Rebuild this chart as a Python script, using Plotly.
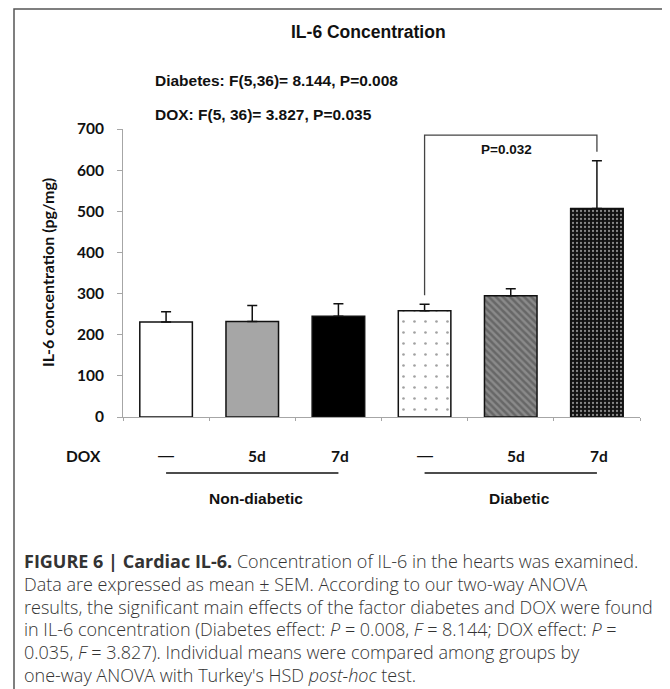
import plotly.graph_objects as go

# ---------------- data ----------------
groups = ["Non-diabetic", "Non-diabetic", "Non-diabetic", "Diabetic", "Diabetic", "Diabetic"]
dox_labels = ["—", "5d", "7d", "—", "5d", "7d"]
il6_mean = [231, 232, 245, 258, 295, 507]
il6_sem = [25, 39, 30, 16, 17, 116]
y_ticks = [0, 100, 200, 300, 400, 500, 600, 700]
title_text = "IL-6 Concentration"
stats_lines = ["Diabetes: F(5,36)= 8.144, P=0.008", "DOX: F(5, 36)= 3.827, P=0.035"]
comparison = (3, 5, "P=0.032")
caption_lines = [
    "<b>FIGURE 6 | Cardiac IL-6.</b> Concentration of IL-6 in the hearts was examined.",
    "Data are expressed as mean ± SEM. According to our two-way ANOVA",
    "results, the significant main effects of the factor diabetes and DOX were found",
    "in IL-6 concentration (Diabetes effect: <i>P</i> = 0.008, <i>F</i> = 8.144; DOX effect: <i>P</i> =",
    "0.035, <i>F</i> = 3.827). Individual means were compared among groups by",
    "one-way ANOVA with Turkey's HSD <i>post-hoc</i> test.",
]

# ---------------- layout geometry (page pixels; body has 8px margin) ----------------
OFF = 8
W_FIG, H_FIG = 670 - OFF, 689 - OFF
L, R, T, B = 123, 640, 129, 417          # plot area in page pixels
PW, PH = R - L, B - T


def px(xp):
    return (xp - L) / PW


def py(yp):
    return (B - yp) / PH


x_pos = list(range(len(il6_mean)))

bg = ["#ffffff", "#a6a6a6", "#000000", "#ffffff", "#8a8a8a", "#111111"]
fg = ["#000000", "#000000", "#000000", "#111111", "#1a1a1a", "#f0f0f0"]
shapes_pat = ["", "", "", ".", "\\", "."]
sizes = [8, 8, 8, 11, 5, 4]
solid = [0.3, 0.3, 0.3, 0.045, 0.5, 0.25]

fig = go.Figure()
fig.add_trace(go.Bar(
    x=x_pos, y=il6_mean, width=0.61,
    marker=dict(
        color=bg,
        line=dict(color="#111111", width=1.5),
        pattern=dict(shape=shapes_pat, fgcolor=fg, size=sizes,
                     solidity=solid, fillmode="overlay"),
    ),
    error_y=dict(type="data", array=il6_sem, arrayminus=[0] * len(il6_sem),
                 symmetric=False, color="#111111", thickness=1.5, width=5),
    showlegend=False, hoverinfo="skip",
))

bold_font = "Liberation Sans"
cal_font = "Lato"

annotations = []
shapes = []

# frame
shapes.append(dict(type="rect", xref="paper", yref="paper",
                   x0=px(14), x1=px(667), y0=py(705), y1=py(9),
                   line=dict(color="#555555", width=1.5), fillcolor="rgba(0,0,0,0)", layer="below"))

# title + stats
annotations.append(dict(text="<b>%s</b>" % title_text, xref="paper", yref="paper",
                        x=px(368), y=py(32), xanchor="center", yanchor="middle",
                        showarrow=False, font=dict(family=bold_font, size=17.5, color="#111")))
for i, s in enumerate(stats_lines):
    annotations.append(dict(text="<b>%s</b>" % s, xref="paper", yref="paper",
                            x=px(153), y=py(80 + 35 * i), xanchor="left", yanchor="middle",
                            showarrow=False, font=dict(family=bold_font, size=15.5, color="#111")))

# y axis title
annotations.append(dict(text="<b>IL-6 concentration (pg/mg)</b>", xref="paper", yref="paper",
                        x=px(47), y=0.5, xanchor="center", yanchor="middle", textangle=-90,
                        showarrow=False, font=dict(family=cal_font, size=16, color="#111")))

# comparison bracket
i0, i1, ptxt = comparison
top_level = 685
gap = 22
shapes.append(dict(type="path", xref="x", yref="y",
                   path="M %f,%f L %f,%f L %f,%f L %f,%f" % (
                       i0, il6_mean[i0] + il6_sem[i0] + gap, i0, top_level,
                       i1, top_level, i1, il6_mean[i1] + il6_sem[i1] + gap),
                   line=dict(color="#444444", width=1.3)))
annotations.append(dict(text="<b>%s</b>" % ptxt, xref="x", yref="y",
                        x=(i0 + i1) / 2, y=651, xanchor="center", yanchor="middle", xshift=-4,
                        showarrow=False, font=dict(family=bold_font, size=13.5, color="#111")))

# DOX row
annotations.append(dict(text="<b>DOX</b>", xref="paper", yref="paper", x=px(83), y=py(456),
                        xanchor="center", yanchor="middle", showarrow=False,
                        font=dict(family=cal_font, size=15.5, color="#111")))
shift = {"—": 0, "5d": 5, "7d": 2}
for xi, lab in zip(x_pos, dox_labels):
    is_dash = lab == "—"
    annotations.append(dict(text=lab if is_dash else "<b>%s</b>" % lab, xref="x", yref="paper",
                            x=xi, y=py(455 if is_dash else 456),
                            xanchor="center", yanchor="middle", showarrow=False, xshift=shift[lab],
                            font=dict(family=bold_font if is_dash else cal_font,
                                      size=16 if is_dash else 15.5, color="#111")))

# group lines and labels
seen = []
for g in groups:
    if g not in seen:
        seen.append(g)
for k, g in enumerate(seen):
    idx = [i for i, gg in enumerate(groups) if gg == g]
    shapes.append(dict(type="line", xref="x", yref="paper", x0=idx[0], x1=idx[-1],
                       y0=py(473), y1=py(473), line=dict(color="#111", width=1.5)))
    annotations.append(dict(text="<b>%s</b>" % g, xref="x", yref="paper",
                            x=sum(idx) / len(idx), y=py(498), xanchor="center", yanchor="middle",
                            xshift=[4, 9][k], showarrow=False,
                            font=dict(family=bold_font, size=15.5, color="#111")))

# caption
for i, line in enumerate(caption_lines):
    annotations.append(dict(text=line, xref="paper", yref="paper", x=px(22), y=py(561 + 22.8 * i),
                            xanchor="left", yanchor="middle", showarrow=False,
                            font=dict(family="Open Sans", size=18, color="#333333", weight=300)))

fig.update_layout(
    width=W_FIG, height=H_FIG,
    margin=dict(l=L - OFF, r=W_FIG - (R - OFF), t=T - OFF, b=H_FIG - (B - OFF), pad=0),
    paper_bgcolor="white", plot_bgcolor="white",
    bargap=0.39,
    xaxis=dict(range=[-0.5, 5.5], showgrid=False, zeroline=False, showline=True,
               linecolor="#a6a6a6", linewidth=1, showticklabels=False,
               tickmode="array", tickvals=[-0.5, 0.5, 1.5, 2.5, 3.5, 4.5, 5.5],
               ticks="outside", ticklen=3, tickcolor="#a6a6a6", fixedrange=True),
    yaxis=dict(range=[0, 700], tickvals=y_ticks, showgrid=False, zeroline=False,
               showline=True, linecolor="#a6a6a6", linewidth=1,
               ticks="outside", ticklen=5, tickcolor="#a6a6a6", ticklabelstandoff=10,
               tickfont=dict(family=cal_font, size=15.5, color="#111", weight="bold"),
               fixedrange=True),
    annotations=annotations,
    shapes=shapes,
)

fig.write_html("out.html")
